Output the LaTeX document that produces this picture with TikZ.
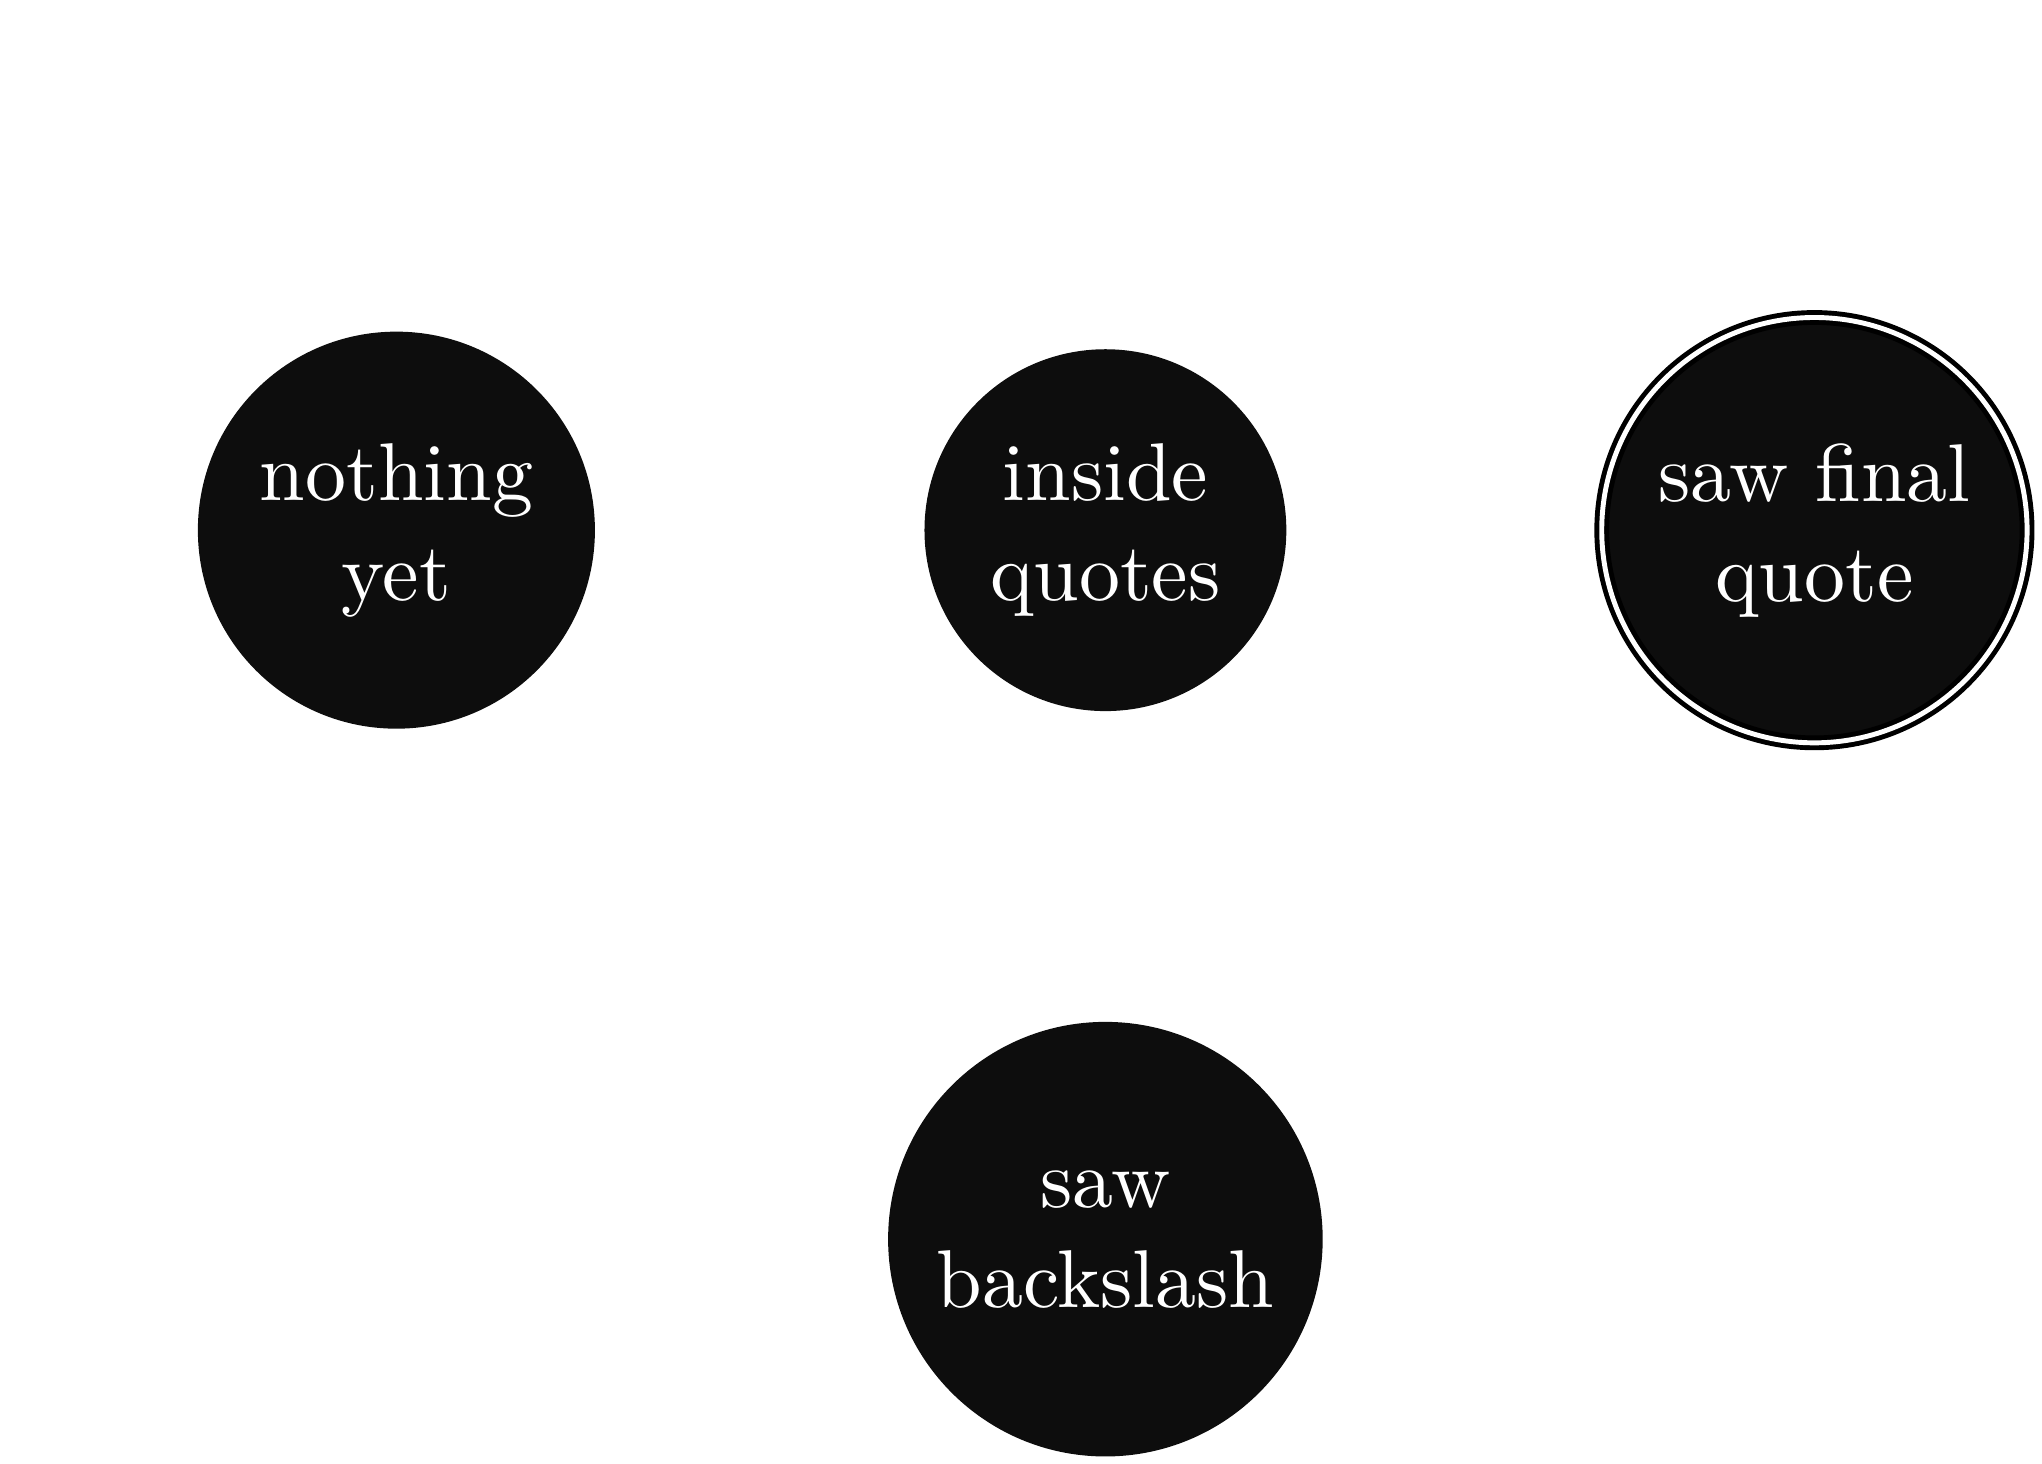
\documentclass[tikz,border=0pt]{standalone}
\usepackage{fontspec}
\usepackage{tikz}
\usetikzlibrary{positioning}
\newfontfamily\statefont{lmroman10-regular}[Extension=.otf]
\definecolor{statefill}{HTML}{0D0D0D}
\tikzset{
  statenode/.style={
    circle,
    fill=statefill,
    draw=statefill,
    line width=1.5pt,
    text=white,
    align=center,
    inner sep=7.6pt,
    font=\statefont\fontsize{25}{30.5}\selectfont
  },
  finalstate/.style={
    statenode,
    draw=black,
    double=white,
    double distance=1.5pt
  }
}
\begin{document}
\begin{tikzpicture}[node distance=7.6cm, on grid]
  \useasboundingbox (-120.9pt,-284.6pt) rectangle (501.9pt,161.7pt);
  \node[statenode] (nothing) at (0,0) {nothing\\yet};
  \node[statenode, right=of nothing] (inside) {inside\\quotes};
  \node[finalstate, right=of inside] (final) {saw final\\quote};
  \node[statenode, below=of inside] (backslash) {saw\\backslash};
\end{tikzpicture}
\end{document}
